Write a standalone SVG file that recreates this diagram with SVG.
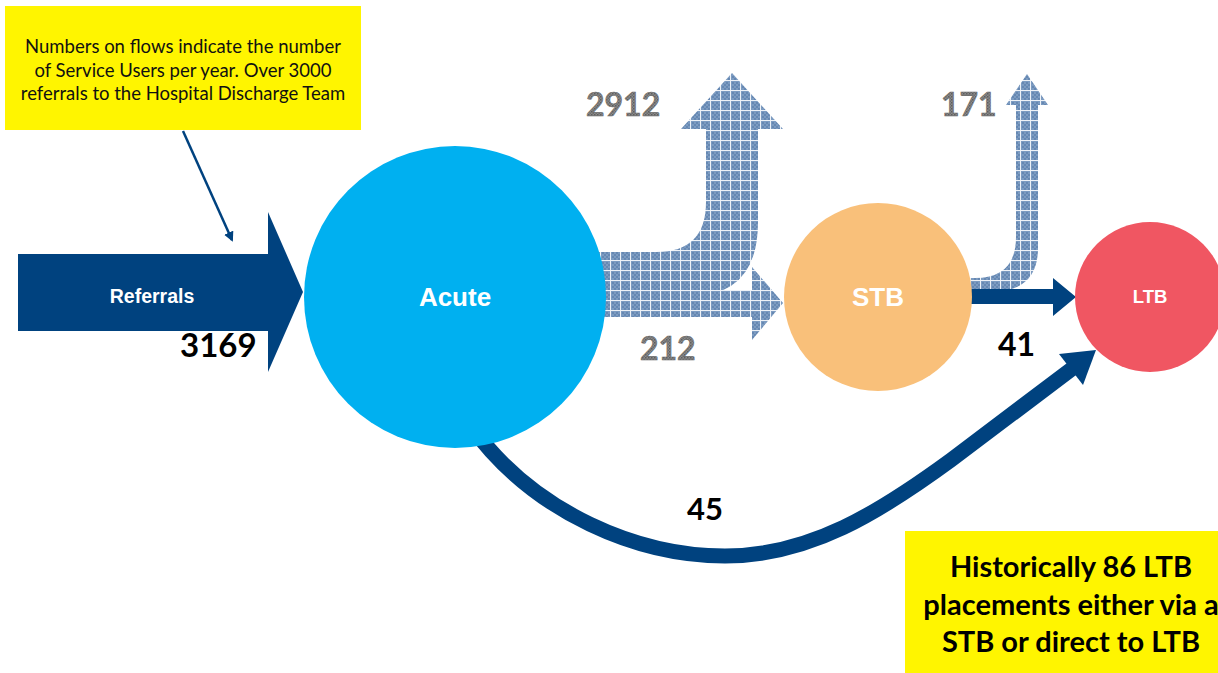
<svg xmlns="http://www.w3.org/2000/svg" width="1218" height="673" viewBox="0 0 1218 673">
  <defs>
    <!-- gridded blue texture used by the outflow arrows -->
    <pattern id="grid" width="10" height="10" patternUnits="userSpaceOnUse">
      <rect width="10" height="10" fill="#7C9BC1"/>
      <path d="M2,2h2v2h-2zM6,2h2v2h-2zM4,4h2v2h-2zM8,4h2v2h-2zM2,6h2v2h-2zM6,6h2v2h-2zM4,8h2v2h-2zM8,8h2v2h-2z" fill="#6688B2"/>
      <rect x="0" y="0" width="10" height="1" fill="#EEF2F7"/>
      <rect x="0" y="0" width="1" height="10" fill="#EEF2F7"/>
    </pattern>
    <!-- speckled grey texture for the outflow numbers -->
    <pattern id="speck" width="3" height="3" patternUnits="userSpaceOnUse">
      <rect width="3" height="3" fill="#8A8A8A"/>
      <rect x="0" y="0" width="1.5" height="1.5" fill="#5E5E5E"/>
      <rect x="1.5" y="1.5" width="1.5" height="1.5" fill="#6E6E6E"/>
    </pattern>
    <marker id="tip" viewBox="0 0 10 10" refX="8" refY="5" markerWidth="4" markerHeight="4" orient="auto">
      <path d="M0,0 L10,5 L0,10 z" fill="#00427F"/>
    </marker>
    <style>
      .navy { fill: #00427F; }
      .hatch { fill: url(#grid); }
      .note { fill: #FFF500; }
      .noteText { font-family: Lato, "Liberation Sans", sans-serif; font-size: 18.5px; fill: #111; text-anchor: middle; }
      .bigNote { font-family: Lato, "Liberation Sans", sans-serif; font-size: 29px; font-weight: 700; fill: #000; text-anchor: middle; }
      .nodeLabel { font-family: "Liberation Sans", Arial, sans-serif; font-weight: 700; fill: #fff; text-anchor: middle; }
      .count { font-family: Lato, "Liberation Sans", sans-serif; font-weight: 700; fill: #000; }
      .outCount { font-family: Lato, "Liberation Sans", sans-serif; font-weight: 700; font-size: 32px; fill: url(#speck); stroke: #6A6A6A; stroke-width: 0.6; }
    </style>
  </defs>

  <rect width="1218" height="673" fill="#fff"/>

  <!-- flows -->
  <g id="connectors">
    <!-- outflows from Acute: bent-up arrow and straight arrow to STB -->
    <path class="hatch" d="M590,252 H656 Q706,252 706,202 V129 H681 L732,73 L783,129 H758 V222 Q758,296 690,296 H590 Z"/>
    <path class="hatch" d="M590,290 H752 V267 L783,303 L752,340 V317 H590 Z"/>
    <!-- outflow from STB -->
    <path class="hatch" d="M960,278 H975 Q1016,278 1016,237 V105 H1006 L1027,74 L1048,105 H1038 V248 Q1038,292 990,292 H960 Z"/>
    <!-- STB to LTB -->
    <path class="navy" d="M960,289 H1053 V278 L1076,297 L1053,316 V304 H960 Z"/>
    <!-- Acute direct to LTB -->
    <path d="M470,425 C535,515 640,556 725,556 C810,556 880,512 951,460 L1073,368" fill="none" stroke="#00427F" stroke-width="15"/>
    <polygon class="navy" points="1096,350 1059,354 1083,385"/>
    <!-- referrals into Acute -->
    <path class="navy" d="M18,254 H268 V212 L303,292 L268,372 V331 H18 Z"/>
    <!-- pointer from the note -->
    <line x1="183" y1="131" x2="232" y2="240" stroke="#00427F" stroke-width="2.5" marker-end="url(#tip)"/>
  </g>

  <g id="node-note">
    <rect class="note" x="5" y="6" width="356" height="124"/>
    <text class="noteText" x="183" y="53">Numbers on flows indicate the number</text>
    <text class="noteText" x="183" y="77">of Service Users per year. Over 3000</text>
    <text class="noteText" x="183" y="100">referrals to the Hospital Discharge Team</text>
  </g>

  <g id="node-referrals">
    <text class="nodeLabel" x="152" y="303" font-size="19.5">Referrals</text>
  </g>

  <g id="node-acute">
    <circle cx="455" cy="297" r="151" fill="#00B0F0"/>
    <text class="nodeLabel" x="455" y="306" font-size="26">Acute</text>
  </g>

  <g id="node-stb">
    <circle cx="878" cy="297" r="94" fill="#F9C07A"/>
    <text class="nodeLabel" x="878" y="306" font-size="26">STB</text>
  </g>

  <g id="node-ltb">
    <circle cx="1150" cy="297" r="75" fill="#F05662"/>
    <text class="nodeLabel" x="1150" y="303" font-size="18.5">LTB</text>
  </g>

  <g id="flow-labels">
    <text class="count" x="180" y="357" font-size="33">3169</text>
    <text class="outCount" x="586" y="116">2912</text>
    <text class="outCount" x="640" y="360">212</text>
    <text class="outCount" x="941" y="116">171</text>
    <text class="count" x="998" y="356" font-size="32">41</text>
    <text class="count" x="687" y="520" font-size="31">45</text>
  </g>

  <g id="node-history">
    <rect class="note" x="905" y="531" width="330" height="142"/>
    <text class="bigNote" x="1071" y="577">Historically 86 LTB</text>
    <text class="bigNote" x="1071" y="615">placements either via a</text>
    <text class="bigNote" x="1071" y="652">STB or direct to LTB</text>
  </g>
</svg>
